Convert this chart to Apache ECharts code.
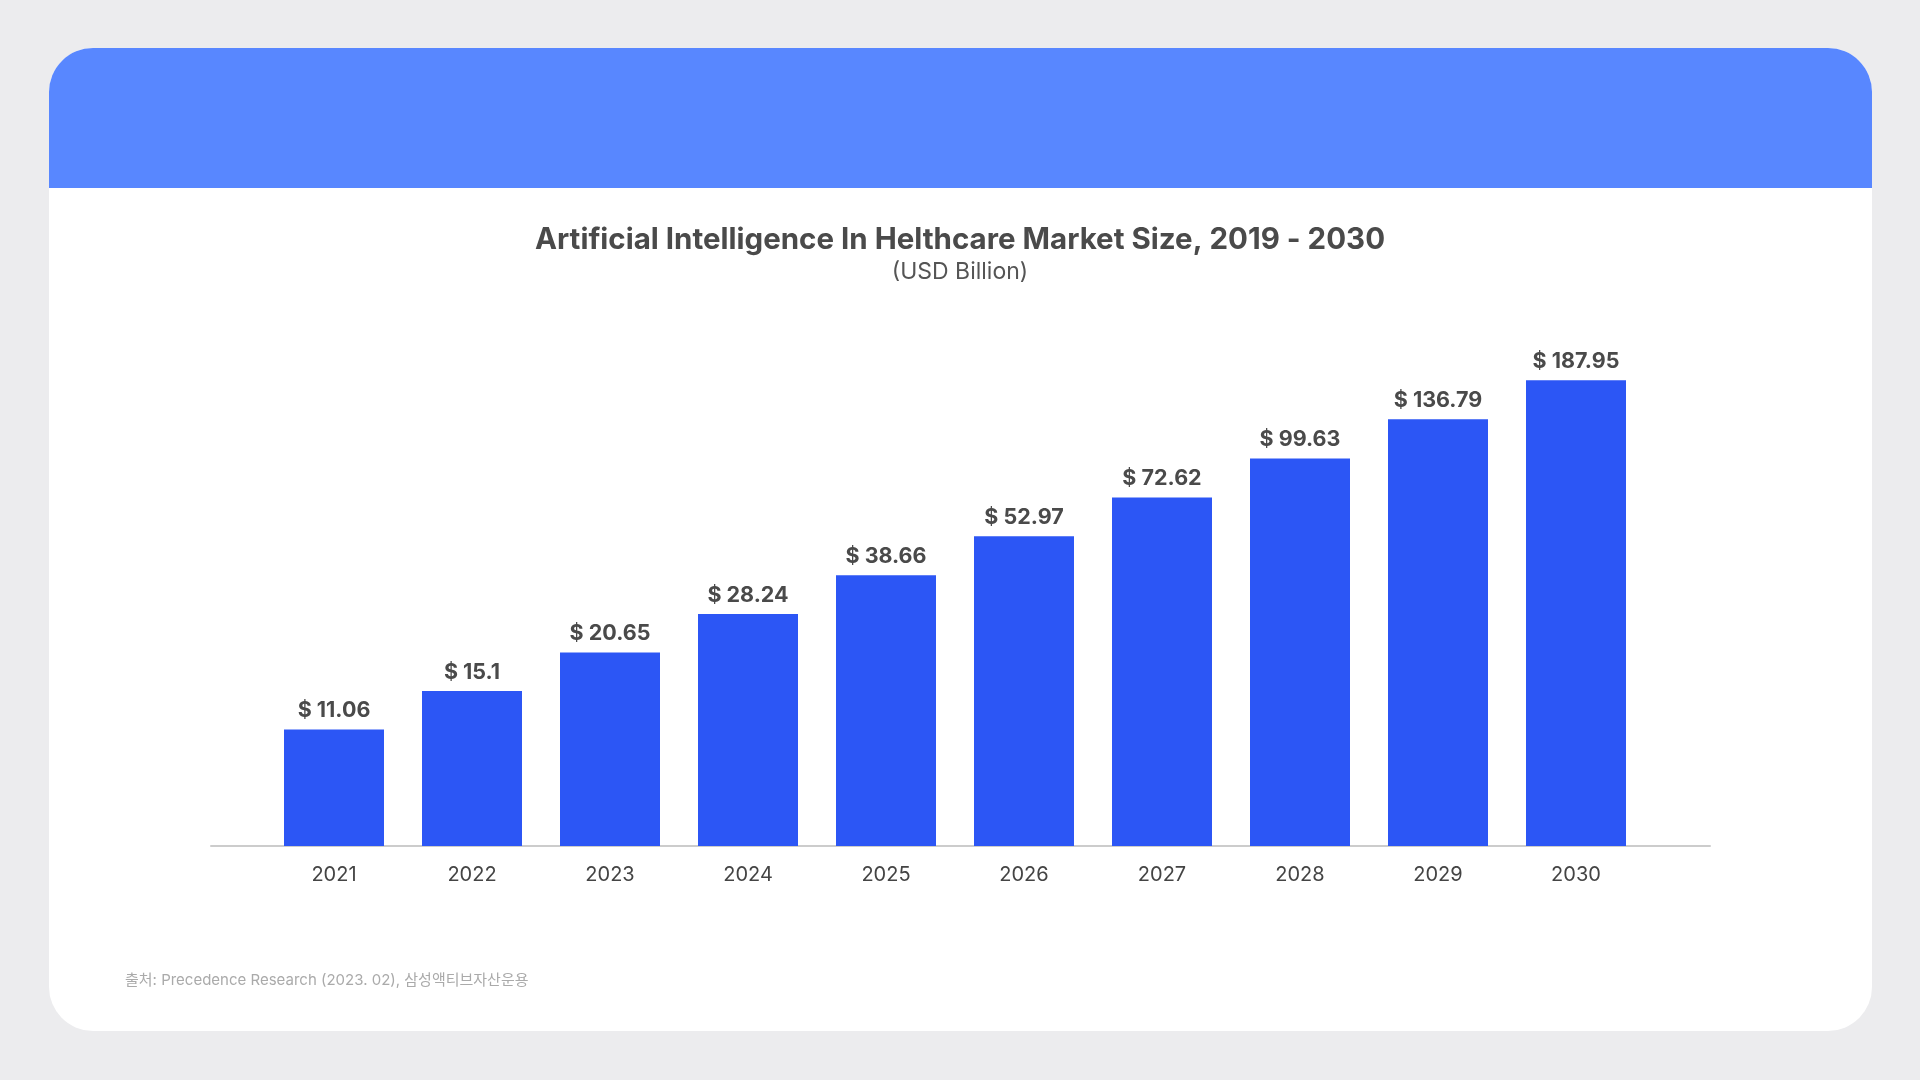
<!DOCTYPE html>
<html>
<head>
<meta charset="utf-8">
<script src="https://cdn.jsdelivr.net/npm/echarts@6/dist/echarts.min.js"></script>
<style>
  html, body { margin: 0; padding: 0; width: 1920px; height: 1080px; background: #ececee; overflow: hidden; }
  #card { position: absolute; left: 49px; top: 48px; width: 1823px; height: 983px; background: #ffffff; border-radius: 44px; overflow: hidden; }
  #header { position: absolute; left: 0; top: 0; width: 100%; height: 140px; background: #5887ff; }
  #chart { position: absolute; left: 0; top: 0; width: 1920px; height: 1080px; }
</style>
</head>
<body>
<div id="card"><div id="header"></div></div>
<div id="chart"></div>
<script>
const categories = ['2021', '2022', '2023', '2024', '2025', '2026', '2027', '2028', '2029', '2030'];
const marketSize = [11.06, 15.1, 20.65, 28.24, 38.66, 52.97, 72.62, 99.63, 136.79, 187.95];
const titleText = 'Artificial Intelligence In Helthcare Market Size, 2019 - 2030';
const subtitleText = '(USD Billion)';
const sourceText = '출처: Precedence Research (2023. 02), 삼성액티브자산운용';

const FONT = "Inter, 'Noto Sans CJK KR', sans-serif";
const chart = echarts.init(document.getElementById('chart'), null, { renderer: 'canvas' });
chart.setOption({
  backgroundColor: 'transparent',
  animation: false,
  title: [
    { text: titleText, left: 'center', top: 218,
      textStyle: { fontFamily: FONT, fontSize: 29.5, fontWeight: 'bold', color: '#4a4a4a', lineHeight: 34 } },
    { text: subtitleText, left: 'center', top: 254,
      textStyle: { fontFamily: FONT, fontSize: 23, fontWeight: 'normal', color: '#555555', lineHeight: 27 } },
    { text: sourceText, left: 120, top: 966,
      textStyle: { fontFamily: FONT, fontSize: 15, fontWeight: 'normal', color: '#aaaaaa', lineHeight: 18 } }
  ],
  grid: [
    { left: 265, right: 275, top: 174, height: 672, containLabel: false },
    { left: 211, right: 210, top: 836, height: 10, containLabel: false }
  ],
  xAxis: [
    { type: 'category', gridIndex: 0, data: categories,
      axisLine: { show: false }, axisTick: { show: false },
      axisLabel: { fontFamily: FONT, fontSize: 20, color: '#444444', margin: 19 } },
    { type: 'value', gridIndex: 1, min: 0, max: 1,
      axisLine: { show: true, lineStyle: { color: '#cccccc', width: 2 } },
      axisTick: { show: false }, axisLabel: { show: false }, splitLine: { show: false } }
  ],
  yAxis: [
    { type: 'log', gridIndex: 0, min: 4.3, max: 1000, logBase: 10,
      axisLine: { show: false }, axisTick: { show: false }, axisLabel: { show: false }, splitLine: { show: false } },
    { type: 'value', gridIndex: 1, show: false }
  ],
  series: [
    { type: 'bar', xAxisIndex: 0, yAxisIndex: 0, data: marketSize,
      barWidth: 100, clip: true,
      itemStyle: { color: '#2c56f5' },
      label: { show: true, position: 'top', distance: 8,
        fontFamily: FONT, fontSize: 21.5, fontWeight: 'bold', color: '#4a4a4a',
        formatter: p => '$ ' + p.value } }
  ]
});
</script>
</body>
</html>
